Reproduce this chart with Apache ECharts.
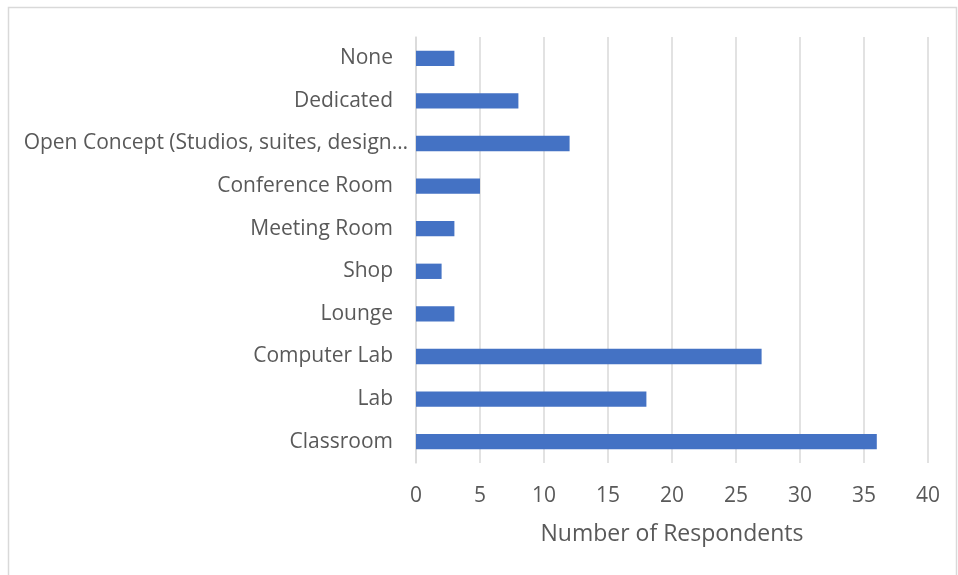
<!DOCTYPE html>
<html>
<head>
<meta charset="utf-8">
<style>
  html, body { margin: 0; padding: 0; background: #ffffff; }
  #chart { width: 958px; height: 575px; }
</style>
<script src="https://cdn.jsdelivr.net/npm/echarts@6/dist/echarts.min.js"></script>
</head>
<body>
<div id="chart"></div>
<script>
// Space types, listed bottom to top as drawn on the category axis
const categories = [
  'Classroom',
  'Lab',
  'Computer Lab',
  'Lounge',
  'Shop',
  'Meeting Room',
  'Conference Room',
  'Open Concept (Studios, suites, design…',
  'Dedicated',
  'None'
];
const respondents = [36, 18, 27, 3, 2, 3, 5, 12, 8, 3];
const axisTitle = 'Number of Respondents';

const FONT = '"Open Sans", Lato, sans-serif';
const TEXT = '#595959';
const GRID = '#d9d9d9';

// The truncated label runs a little closer to the axis than the others
const categoryData = categories.map(function (c) {
  return c.endsWith('…')
    ? { value: c, textStyle: { padding: [3, -15, 0, 0] } }
    : c;
});

const chart = echarts.init(document.getElementById('chart'));
chart.setOption({
  animation: false,
  backgroundColor: '#ffffff',
  graphic: [{
    type: 'rect',
    shape: { x: 8.5, y: 7.5, width: 948, height: 600 },
    style: { fill: 'none', stroke: GRID, lineWidth: 1.5 },
    silent: true
  }],
  grid: { left: 416, right: 30, top: 37, bottom: 112 },
  xAxis: {
    type: 'value',
    min: 0,
    max: 40,
    interval: 5,
    name: axisTitle,
    nameLocation: 'middle',
    nameGap: 60,
    nameTextStyle: { color: TEXT, fontSize: 23, fontFamily: FONT },
    axisLine: { show: false },
    axisTick: { show: false },
    axisLabel: { color: TEXT, fontSize: 21, fontFamily: FONT, margin: 23 },
    splitLine: { show: true, lineStyle: { color: GRID, width: 1.5 } }
  },
  yAxis: {
    type: 'category',
    data: categoryData,
    axisLine: { show: true, lineStyle: { color: GRID, width: 1.5 } },
    axisTick: { show: false },
    axisLabel: { color: TEXT, fontSize: 21, fontFamily: FONT, margin: 23, padding: [3, 0, 0, 0] }
  },
  series: [{
    type: 'bar',
    data: respondents,
    barWidth: '36%',
    itemStyle: { color: '#4472c4' }
  }]
});
</script>
</body>
</html>
